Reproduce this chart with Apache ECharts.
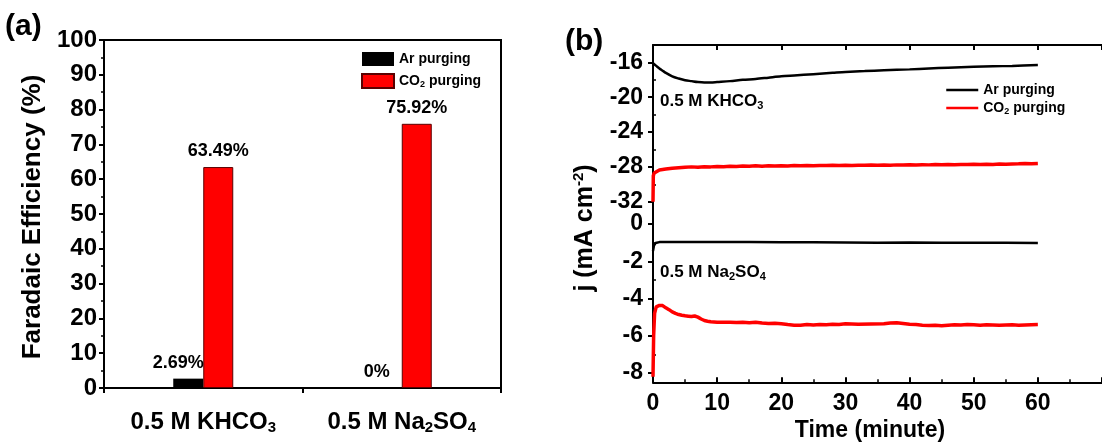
<!DOCTYPE html>
<html>
<head>
<meta charset="utf-8">
<script src="https://cdn.jsdelivr.net/npm/echarts@6/dist/echarts.min.js"></script>
<style>
html,body{margin:0;padding:0;background:#fff;}
#c{width:1102px;height:442px;}
</style>
</head>
<body>
<div id="c"></div>
<script>
// ---------- Panel (a) data ----------
const categories = ['0.5 M KHCO3', '0.5 M Na2SO4'];
const arFE = [2.69, 0];
const co2FE = [63.49, 75.92];

// ---------- Panel (b) data ----------
// top: 0.5 M KHCO3
const khTimeAr = [0,0.5,1,1.5,2,3,4,5,6,7,8,9,10,12,14,16,18,20,22,25,28,30,33,36,40,43,46,50,53,56,60];
const khAr = [-16.1,-16.4,-16.7,-16.95,-17.2,-17.6,-17.85,-18.05,-18.15,-18.25,-18.3,-18.3,-18.25,-18.15,-18.0,-17.9,-17.75,-17.6,-17.5,-17.35,-17.2,-17.1,-17.0,-16.9,-16.8,-16.7,-16.6,-16.5,-16.45,-16.4,-16.3];
const khTimeCO2 = [0,0.05,0.2,0.5,1,2,3,4,5,6,7,8,9,10,11,12,13,14,15,16,17,18,19,20,21,22,23,24,25,26,27,28,29,30,31,32,33,34,35,36,37,38,39,40,41,42,43,44,45,46,47,48,49,50,51,52,53,54,55,56,57,58,59,60];
const khCO2 = [-32.0,-29.0,-28.7,-28.5,-28.35,-28.25,-28.15,-28.1,-28.05,-28.0,-28.05,-27.98,-28.0,-27.95,-27.98,-27.92,-27.95,-27.9,-27.93,-27.88,-27.92,-27.88,-27.9,-27.86,-27.9,-27.85,-27.87,-27.84,-27.86,-27.83,-27.85,-27.82,-27.84,-27.8,-27.83,-27.8,-27.82,-27.79,-27.81,-27.78,-27.8,-27.77,-27.79,-27.76,-27.78,-27.75,-27.77,-27.74,-27.76,-27.73,-27.75,-27.72,-27.74,-27.71,-27.73,-27.7,-27.72,-27.68,-27.7,-27.66,-27.65,-27.6,-27.65,-27.62];
// bottom: 0.5 M Na2SO4
const naTimeAr = [0,0.15,0.4,1,3,6,10,15,20,25,30,35,40,45,50,55,60];
const naAr = [-1.45,-1.15,-1.02,-0.97,-0.96,-0.96,-0.97,-0.97,-0.98,-0.98,-0.99,-1.0,-0.99,-1.0,-1.0,-1.01,-1.02];
const naTimeCO2 = [0,0.1,0.25,0.5,1,1.5,2,2.5,3,3.5,4,4.5,5,5.5,6,6.5,7,7.5,8,8.5,9,10,11,12,13,14,15,16,17,18,19,20,21,22,23,24,25,26,27,28,29,30,32,34,36,37,38,39,40,41,42,43,44,45,46,47,48,49,50,51,52,53,54,55,56,57,58,59,60];
const naCO2 = [-8.2,-6.0,-4.8,-4.45,-4.37,-4.38,-4.5,-4.6,-4.72,-4.8,-4.86,-4.9,-4.93,-4.95,-4.97,-4.94,-5.0,-5.1,-5.18,-5.22,-5.25,-5.27,-5.28,-5.27,-5.29,-5.28,-5.3,-5.27,-5.32,-5.34,-5.33,-5.36,-5.4,-5.43,-5.44,-5.4,-5.42,-5.39,-5.41,-5.38,-5.39,-5.36,-5.38,-5.37,-5.36,-5.32,-5.3,-5.34,-5.38,-5.4,-5.43,-5.45,-5.44,-5.46,-5.43,-5.41,-5.42,-5.4,-5.41,-5.43,-5.41,-5.42,-5.44,-5.42,-5.41,-5.43,-5.42,-5.41,-5.4];

const timeTicks = [0,10,20,30,40,50,60];
const khTicks = [-32,-28,-24,-20,-16];
const khMinor = [-30,-26,-22,-18];
const naTicks = [-8,-6,-4,-2,0];
const naMinor = [-7,-5,-3,-1];

const FONT = '"Liberation Sans", Arial, sans-serif';
const zip = (t, v) => t.map((x, i) => [x, v[i]]);
function chemRich(s, cls, sub) {
  return '{' + cls + '|' + s.replace(/([A-Za-z])(\d)/g, '$1}{' + sub + '|$2}{' + cls + '|') + '}';
}

const chart = echarts.init(document.getElementById('c'), null, {renderer: 'canvas'});

const legendNames = {
  'Ar purging': '{t|Ar purging}',
  'CO2 purging': '{t|CO}{s|2}{t| purging}',
  'Ar purging (b)': '{t|Ar purging}',
  'CO2 purging (b)': '{t|CO}{s|2}{t| purging}'
};
const legendRich = {
  t: {fontSize: 14, fontWeight: 'bold', fontFamily: FONT, color: '#000'},
  s: {fontSize: 9, fontWeight: 'bold', fontFamily: FONT, color: '#000', padding: [8, 0, 0, 0]}
};

const option = {
  animation: false,
  backgroundColor: '#fff',
  textStyle: {fontFamily: FONT},
  grid: [
    {left: 104, top: 40, width: 397, height: 348, show: true, borderColor: '#000', borderWidth: 2, backgroundColor: 'transparent'},
    {left: 653, top: 45, width: 467, height: 156.7},
    {left: 653, top: 201.7, width: 467, height: 180.6}
  ],
  legend: [
    {
      left: 356, top: 47, orient: 'vertical', itemWidth: 32, itemHeight: 14, itemGap: 7,
      data: ['Ar purging', 'CO2 purging'], icon: 'rect', selectedMode: false,
      formatter: n => legendNames[n], textStyle: {rich: legendRich}
    },
    {
      left: 940, top: 78, orient: 'vertical', itemWidth: 32, itemHeight: 14, itemGap: 4,
      data: ['Ar purging (b)', 'CO2 purging (b)'], selectedMode: false,
      itemStyle: {opacity: 0},
      lineStyle: {width: 2.5},
      formatter: n => legendNames[n], textStyle: {rich: legendRich}
    }
  ],
  xAxis: [
    {
      type: 'category', gridIndex: 0, data: categories,
      axisLine: {lineStyle: {color: '#000', width: 2}},
      axisTick: {show: true, inside: false, length: 5, lineStyle: {width: 2, color: '#000'}},
      axisLabel: {
        margin: 20, color: '#000', interval: 0, hideOverlap: false,
        formatter: v => chemRich(v, 'n', 's'),
        rich: {
          n: {fontSize: 24, fontWeight: 'bold', fontFamily: FONT, color: '#000', lineHeight: 28},
          s: {fontSize: 15, fontWeight: 'bold', fontFamily: FONT, color: '#000', padding: [12, 0, 0, 0]}
        }
      }
    },
    {
      type: 'value', gridIndex: 1, position: 'top', min: 0, max: 70, interval: 10,
      axisLine: {show: true, lineStyle: {color: '#000', width: 2}},
      axisTick: {show: true, inside: true, length: 5, lineStyle: {width: 2, color: '#000'}},
      axisLabel: {show: false}, splitLine: {show: false}
    },
    {
      type: 'value', gridIndex: 2, min: 0, max: 70, interval: 10,
      axisLine: {show: true, onZero: false, lineStyle: {color: '#000', width: 2}},
      axisTick: {show: true, inside: true, length: 5, lineStyle: {width: 2, color: '#000'}},
      minorTick: {show: true, splitNumber: 2, length: 3, lineStyle: {width: 1.5, color: '#000'}},
      axisLabel: {
        color: '#000', fontSize: 23, fontWeight: 'bold', fontFamily: FONT, margin: 10,
        customValues: timeTicks
      },
      splitLine: {show: false}
    }
  ],
  yAxis: [
    {
      type: 'value', gridIndex: 0, min: 0, max: 100, interval: 10,
      axisLine: {show: true, lineStyle: {color: '#000', width: 2}},
      axisTick: {show: true, inside: false, length: 5, lineStyle: {width: 2, color: '#000'}},
      minorTick: {show: true, splitNumber: 2, length: 3, lineStyle: {width: 1.5, color: '#000'}},
      axisLabel: {color: '#000', fontSize: 24, fontWeight: 'bold', fontFamily: FONT, margin: 7},
      splitLine: {show: false}
    },
    {
      type: 'value', gridIndex: 1, min: -32, max: -14,
      axisLine: {show: true, onZero: false, lineStyle: {color: '#000', width: 2}},
      axisTick: {show: true, inside: false, length: 5, customValues: khTicks, lineStyle: {width: 2, color: '#000'}},
      axisLabel: {color: '#000', fontSize: 23, fontWeight: 'bold', fontFamily: FONT, margin: 10, customValues: khTicks},
      splitLine: {show: false}
    },
    {
      type: 'value', gridIndex: 1, min: -32, max: -14,
      axisLine: {show: false},
      axisTick: {show: true, inside: false, length: 3, customValues: khMinor, lineStyle: {width: 1.5, color: '#000'}},
      axisLabel: {show: false}, splitLine: {show: false}
    },
    {
      type: 'value', gridIndex: 2, min: -8.5, max: 1.2,
      axisLine: {show: true, onZero: false, lineStyle: {color: '#000', width: 2}},
      axisTick: {show: true, inside: false, length: 5, customValues: naTicks, lineStyle: {width: 2, color: '#000'}},
      axisLabel: {color: '#000', fontSize: 23, fontWeight: 'bold', fontFamily: FONT, margin: 10, customValues: naTicks},
      splitLine: {show: false}
    },
    {
      type: 'value', gridIndex: 2, min: -8.5, max: 1.2,
      axisLine: {show: false},
      axisTick: {show: true, inside: false, length: 3, customValues: naMinor, lineStyle: {width: 1.5, color: '#000'}},
      axisLabel: {show: false}, splitLine: {show: false}
    }
  ],
  series: [
    {
      name: 'Ar purging', type: 'bar', xAxisIndex: 0, yAxisIndex: 0, data: arFE,
      barWidth: 30, barGap: '0%',
      itemStyle: {color: '#000'},
      label: {show: true, position: 'top', distance: 7, offset: [-10, 0], formatter: '{c}%',
        color: '#000', fontSize: 18, fontWeight: 'bold', fontFamily: FONT}
    },
    {
      name: 'CO2 purging', type: 'bar', xAxisIndex: 0, yAxisIndex: 0, data: co2FE,
      barWidth: 30, barGap: '0%',
      itemStyle: {color: '#ff0000', borderColor: '#5a0000', borderWidth: 1},
      label: {show: true, position: 'top', distance: 7, formatter: '{c}%',
        color: '#000', fontSize: 18, fontWeight: 'bold', fontFamily: FONT}
    },
    {
      name: 'Ar purging (b)', type: 'line', xAxisIndex: 1, yAxisIndex: 1,
      data: zip(khTimeAr, khAr), showSymbol: false, symbol: 'none', smooth: 0.3,
      lineStyle: {color: '#000', width: 2.5}, itemStyle: {color: '#000'}
    },
    {
      name: 'CO2 purging (b)', type: 'line', xAxisIndex: 1, yAxisIndex: 1,
      data: zip(khTimeCO2, khCO2), showSymbol: false, symbol: 'none',
      lineStyle: {color: '#ff0000', width: 3.5}, itemStyle: {color: '#ff0000'}
    },
    {
      name: 'Ar purging (b)', type: 'line', xAxisIndex: 2, yAxisIndex: 3,
      data: zip(naTimeAr, naAr), showSymbol: false, symbol: 'none',
      lineStyle: {color: '#000', width: 2.5}, itemStyle: {color: '#000'}
    },
    {
      name: 'CO2 purging (b)', type: 'line', xAxisIndex: 2, yAxisIndex: 3,
      data: zip(naTimeCO2, naCO2), showSymbol: false, symbol: 'none',
      lineStyle: {color: '#ff0000', width: 3.5}, itemStyle: {color: '#ff0000'}
    }
  ],
  graphic: [
    {type: 'text', left: 5, top: 12, style: {text: '(a)', font: 'bold 30px ' + FONT, fill: '#000'}},
    {type: 'text', left: 565, top: 27, style: {text: '(b)', font: 'bold 30px ' + FONT, fill: '#000'}},
    {type: 'text', x: 33, y: 217, rotation: Math.PI / 2,
      style: {text: 'Faradaic Efficiency (%)', font: 'bold 26px ' + FONT, fill: '#000', align: 'center', verticalAlign: 'middle'}},
    {type: 'text', x: 585, y: 228, rotation: Math.PI / 2,
      style: {
        text: '{n|j (mA cm}{p|-2}{n|)}', align: 'center', verticalAlign: 'middle',
        rich: {
          n: {fontSize: 25, fontWeight: 'bold', fontFamily: FONT, fill: '#000', lineHeight: 30},
          p: {fontSize: 15, fontWeight: 'bold', fontFamily: FONT, fill: '#000', padding: [0, 0, 12, 0]}
        }
      }},
    {type: 'text', x: 870, y: 431,
      style: {text: 'Time (minute)', font: 'bold 23px ' + FONT, fill: '#000', align: 'center', verticalAlign: 'middle'}},
    {type: 'text', x: 660, y: 101,
      style: {
        text: chemRich('0.5 M KHCO3', 'n', 's'), verticalAlign: 'middle',
        rich: {
          n: {fontSize: 17, fontWeight: 'bold', fontFamily: FONT, fill: '#000', lineHeight: 22},
          s: {fontSize: 11, fontWeight: 'bold', fontFamily: FONT, fill: '#000', padding: [9, 0, 0, 0]}
        }
      }},
    {type: 'text', x: 660, y: 272,
      style: {
        text: chemRich('0.5 M Na2SO4', 'n', 's'), verticalAlign: 'middle',
        rich: {
          n: {fontSize: 17, fontWeight: 'bold', fontFamily: FONT, fill: '#000', lineHeight: 22},
          s: {fontSize: 11, fontWeight: 'bold', fontFamily: FONT, fill: '#000', padding: [9, 0, 0, 0]}
        }
      }}
  ]
};
chart.setOption(option);
</script>
</body>
</html>
